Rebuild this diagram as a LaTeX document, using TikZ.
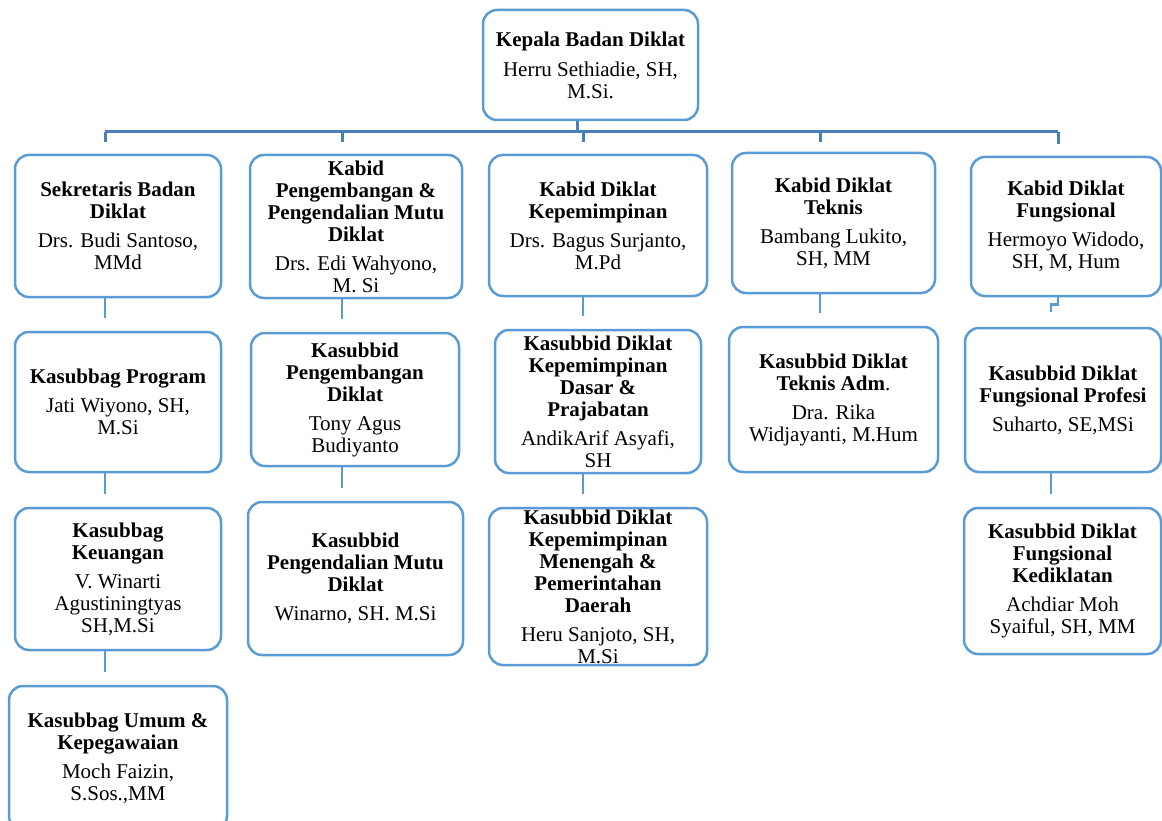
\documentclass[tikz,border=0pt]{standalone}
\usepackage{fontspec}
\setmainfont{Liberation Serif}
\definecolor{boxblue}{RGB}{91,155,213}
\definecolor{busblue}{RGB}{74,126,187}

\begin{document}
\begin{tikzpicture}[x=1pt,y=-1pt,
    unitbox/.style={draw=boxblue, line width=2.5pt, rounded corners=14pt, fill=white,
        align=center, inner sep=0pt, font=\fontsize{21}{22}\selectfont},
    link/.style={draw=boxblue, line width=2.5pt, shorten >=13pt},
    bus/.style={draw=busblue, line width=3pt}]
    \useasboundingbox (0,0) rectangle (1162,821);

    % x of the connectors in each column
    \coordinate (k1) at (105,0);
    \coordinate (k2) at (342,0);
    \coordinate (k3) at (583,0);
    \coordinate (k4) at (820,0);
    \coordinate (k5) at (1058,0);
    \coordinate (k6) at (1051,0);
    \coordinate (hub) at (577,132);

    % head
    \node[unitbox, minimum width=215pt, minimum height=110pt] (kepala) at (590.5,65)
        {\textbf{Kepala Badan Diklat}\\[8pt]Herru Sethiadie, SH,\\M.Si.};

    % first row
    \node[unitbox, minimum width=206pt, minimum height=142pt] (sek) at (118,226)
        {\textbf{Sekretaris Badan}\\\textbf{Diklat}\\[7pt]Drs. Budi Santoso,\\MMd};
    \node[unitbox, minimum width=212pt, minimum height=143pt] (bidpp) at (356,226.5)
        {\textbf{Kabid}\\\textbf{Pengembangan \&}\\\textbf{Pengendalian Mutu}\\\textbf{Diklat}\\[7pt]Drs. Edi Wahyono,\\M. Si};
    \node[unitbox, minimum width=218pt, minimum height=141pt] (bidkep) at (598,225.5)
        {\textbf{Kabid Diklat}\\\textbf{Kepemimpinan}\\[7pt]Drs. Bagus Surjanto,\\M.Pd};
    \node[unitbox, minimum width=203pt, minimum height=140pt] (bidtek) at (833.5,223)
        {\textbf{Kabid Diklat}\\\textbf{Teknis}\\[7pt]Bambang Lukito,\\SH, MM};
    \node[unitbox, minimum width=190pt, minimum height=139pt] (bidfung) at (1066,226.5)
        {\textbf{Kabid Diklat}\\\textbf{Fungsional}\\[7pt]Hermoyo Widodo,\\SH, M, Hum};

    % second row
    \node[unitbox, minimum width=206pt, minimum height=140pt] (prog) at (118,402)
        {\textbf{Kasubbag Program}\\[7pt]Jati Wiyono, SH,\\M.Si};
    \node[unitbox, minimum width=208pt, minimum height=133pt] (pengb) at (355,399.5)
        {\textbf{Kasubbid}\\\textbf{Pengembangan}\\\textbf{Diklat}\\[7pt]Tony Agus\\Budiyanto};
    \node[unitbox, minimum width=206pt, minimum height=143pt] (dasar) at (598,401.5)
        {\textbf{Kasubbid Diklat}\\\textbf{Kepemimpinan}\\\textbf{Dasar \&}\\\textbf{Prajabatan}\\[7pt]AndikArif Asyafi,\\SH};
    \node[unitbox, minimum width=209pt, minimum height=145pt] (adm) at (833.5,399.5)
        {\textbf{Kasubbid Diklat}\\\textbf{Teknis Adm}.\\[7pt]Dra. Rika\\Widjayanti, M.Hum};
    \node[unitbox, minimum width=196pt, minimum height=144pt] (profesi) at (1063,400)
        {\textbf{Kasubbid Diklat}\\\textbf{Fungsional Profesi}\\[7pt]Suharto, SE,MSi};

    % third row
    \node[unitbox, minimum width=206pt, minimum height=142pt] (uang) at (118,579)
        {\textbf{Kasubbag}\\\textbf{Keuangan}\\[7pt]V. Winarti\\Agustiningtyas\\SH,M.Si};
    \node[unitbox, minimum width=215pt, minimum height=153pt] (mutu) at (355.5,578.5)
        {\textbf{Kasubbid}\\\textbf{Pengendalian Mutu}\\\textbf{Diklat}\\[7pt]Winarno, SH. M.Si};
    \node[unitbox, minimum width=218pt, minimum height=157pt] (menengah) at (598,586.5)
        {\textbf{Kasubbid Diklat}\\\textbf{Kepemimpinan}\\\textbf{Menengah \&}\\\textbf{Pemerintahan}\\\textbf{Daerah}\\[7pt]Heru Sanjoto, SH,\\M.Si};
    \node[unitbox, minimum width=197pt, minimum height=146pt] (klatan) at (1062.5,581)
        {\textbf{Kasubbid Diklat}\\\textbf{Fungsional}\\\textbf{Kediklatan}\\[7pt]Achdiar Moh\\Syaiful, SH, MM};

    % fourth row
    \node[unitbox, minimum width=218pt, minimum height=144pt] (umum) at (118,758)
        {\textbf{Kasubbag Umum \&}\\\textbf{Kepegawaian}\\[7pt]Moch Faizin,\\S.Sos.,MM};

    % bus under the head
    \draw[bus] (kepala.south -| hub) -- (hub);
    \draw[bus] (k1 |- hub) -- (k5 |- hub);
    \draw[bus, shorten >=12pt] (k1 |- hub) -- (sek.north -| k1);
    \draw[bus, shorten >=12pt] (k2 |- hub) -- (bidpp.north -| k2);
    \draw[bus, shorten >=12pt] (k3 |- hub) -- (bidkep.north -| k3);
    \draw[bus, shorten >=10pt] (k4 |- hub) -- (bidtek.north -| k4);
    \draw[bus, shorten >=12pt] (k5 |- hub) -- (bidfung.north -| k5);

    % columns
    \draw[link] (sek.south -| k1) -- (prog.north -| k1);
    \draw[link] (prog.south -| k1) -- (uang.north -| k1);
    \draw[link] (uang.south -| k1) -- (umum.north -| k1);
    \draw[link] (bidpp.south -| k2) -- (pengb.north -| k2);
    \draw[link] (pengb.south -| k2) -- (mutu.north -| k2);
    \draw[link] (bidkep.south -| k3) -- (dasar.north -| k3);
    \draw[link] (dasar.south -| k3) -- (menengah.north -| k3);
    \draw[link] (bidtek.south -| k4) -- (adm.north -| k4);
    \draw[link, shorten >=0pt] (bidfung.south -| k5) -- ++(0,7) -| (1051,312);
    \draw[link] (profesi.south -| k6) -- (klatan.north -| k6);
\end{tikzpicture}
\end{document}
